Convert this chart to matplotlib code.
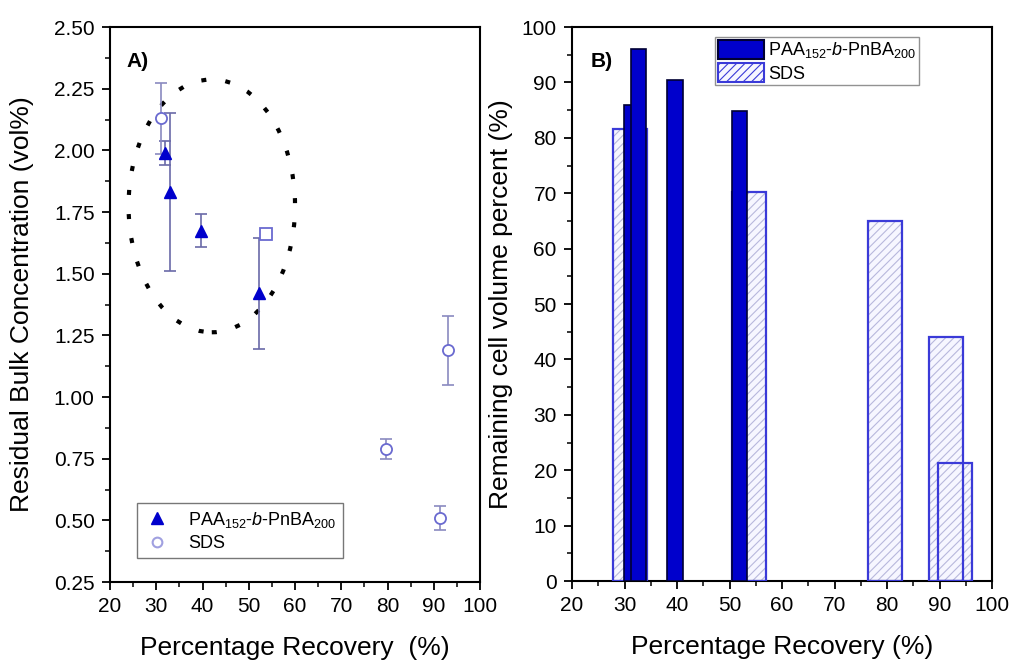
import matplotlib
matplotlib.use("Agg")
import matplotlib.pyplot as plt
from matplotlib.patches import Ellipse, Patch
from matplotlib.lines import Line2D
from matplotlib.ticker import MultipleLocator

plt.rcParams['font.family'] = ['Liberation Sans', 'DejaVu Sans']
plt.rcParams['mathtext.fontset'] = 'custom'
plt.rcParams['mathtext.rm'] = 'Liberation Sans'
plt.rcParams['mathtext.it'] = 'Liberation Sans:italic'
plt.rcParams['hatch.linewidth'] = 0.8

# ---- data: panel A ----
paa_recovery = [31.9, 33.0, 39.7, 52.2]
paa_conc = [1.99, 1.83, 1.675, 1.42]
paa_err = [0.05, 0.32, 0.065, 0.225]

sds_recovery = [31.0, 53.7, 79.7, 91.4, 93.1]
sds_conc = [2.13, 1.66, 0.79, 0.51, 1.19]
sds_err = [0.145, 0.0, 0.04, 0.05, 0.14]
sds_markers = ['o', 's', 'o', 'o', 'o']

# ---- data: panel B ----
paa_bar_x = [31.4, 32.6, 39.6, 51.9]
paa_bar_h = [86.0, 96.0, 90.5, 84.8]
sds_bar_x = [31.0, 53.7, 79.6, 91.3, 93.0]
sds_bar_h = [81.6, 70.2, 65.0, 44.0, 21.3]

xticks = [20, 30, 40, 50, 60, 70, 80, 90, 100]
yticks_a = [0.25, 0.50, 0.75, 1.00, 1.25, 1.50, 1.75, 2.00, 2.25, 2.50]
yticks_b = [0, 10, 20, 30, 40, 50, 60, 70, 80, 90, 100]

label_paa = r'PAA$_{152}$-$\it{b}$-PnBA$_{200}$'
label_sds = 'SDS'

NAVY = '#0000cc'
SDS_C = '#6a6ad0'
ERR_PAA = '#6a6aa8'
ERR_SDS = '#8a8ac0'

fig = plt.figure(figsize=(10.13, 6.66), dpi=100)
axA = fig.add_axes([0.1086, 0.1261, 0.3653, 0.8333])
axB = fig.add_axes([0.5647, 0.1276, 0.4146, 0.8318])

def style(ax):
    for s in ax.spines.values():
        s.set_linewidth(1.5)
    ax.tick_params(which='major', direction='out', length=6, width=1.3,
                   labelsize=15, pad=5, top=False, right=False)
    ax.tick_params(which='minor', direction='out', length=3.5, width=1.1,
                   top=False, right=False)

# ---------- Panel A ----------
ell = Ellipse((42.0, 1.775), 36.0, 1.025, fill=False, edgecolor='black',
              linewidth=3.0, linestyle=(0, (1.2, 4.6)))
axA.add_patch(ell)

axA.errorbar(paa_recovery, paa_conc, yerr=paa_err, fmt='none',
             ecolor=ERR_PAA, elinewidth=1.2, capsize=4, capthick=1.2, zorder=3)
axA.plot(paa_recovery, paa_conc, linestyle='none', marker='^', markersize=9,
         color=NAVY, zorder=4)

axA.errorbar(sds_recovery, sds_conc, yerr=sds_err, fmt='none',
             ecolor=ERR_SDS, elinewidth=1.2, capsize=4, capthick=1.2, zorder=3)
for x, y, m in zip(sds_recovery, sds_conc, sds_markers):
    axA.plot([x], [y], linestyle='none', marker=m, markersize=8,
             markerfacecolor='white', markeredgecolor=SDS_C,
             markeredgewidth=1.3, zorder=4)

axA.set_xlim(20, 100)
axA.set_ylim(0.25, 2.50)
axA.set_xticks(xticks)
axA.set_yticks(yticks_a)
axA.set_yticklabels([f'{v:.2f}' for v in yticks_a])
axA.xaxis.set_minor_locator(MultipleLocator(5))
axA.yaxis.set_minor_locator(MultipleLocator(0.125))
style(axA)
axA.set_xlabel('Percentage Recovery  (%)', fontsize=19, labelpad=14)
axA.set_ylabel('Residual Bulk Concentration (vol%)', fontsize=19, labelpad=14)
axA.text(0.045, 0.955, 'A)', transform=axA.transAxes, fontsize=15,
         fontweight='bold', va='top', ha='left')

hA = [Line2D([], [], linestyle='none', marker='^', markersize=9, color=NAVY),
      Line2D([], [], linestyle='none', marker='o', markersize=7,
             markerfacecolor='white', markeredgecolor='#a0a0e0',
             markeredgewidth=1.5)]
legA = axA.legend(hA, [label_paa, label_sds], loc='upper left',
                  bbox_to_anchor=(0.073, 0.142), borderaxespad=0,
                  fontsize=13, frameon=True, fancybox=False,
                  edgecolor='#555555', handlelength=1.5, handletextpad=1.0,
                  labelspacing=0.3, borderpad=0.35)
legA.get_frame().set_linewidth(1.0)

# ---------- Panel B ----------
axB.bar(sds_bar_x, sds_bar_h, width=6.5, color='#f6f6ff', hatch='////',
        edgecolor='#b8b8dc', linewidth=0, zorder=2)
axB.bar(sds_bar_x, sds_bar_h, width=6.5, fill=False, edgecolor='#3a3ad8',
        linewidth=1.6, zorder=3)
axB.bar(paa_bar_x, paa_bar_h, width=2.9, color=NAVY, edgecolor='#000033',
        linewidth=1.2, zorder=4)

axB.set_xlim(20, 100)
axB.set_ylim(0, 100)
axB.set_xticks(xticks)
axB.set_yticks(yticks_b)
axB.xaxis.set_minor_locator(MultipleLocator(5))
axB.yaxis.set_minor_locator(MultipleLocator(5))
style(axB)
axB.set_xlabel('Percentage Recovery (%)', fontsize=19, labelpad=14)
axB.set_ylabel('Remaining cell volume percent (%)', fontsize=19, labelpad=6)
axB.text(0.045, 0.955, 'B)', transform=axB.transAxes, fontsize=15,
         fontweight='bold', va='top', ha='left')

hB = [Patch(facecolor=NAVY, edgecolor='#000033', linewidth=1.5),
      Patch(facecolor='#f6f6ff', edgecolor='#3a3ad8', hatch='////',
            linewidth=1.5)]
legB = axB.legend(hB, [label_paa, label_sds], loc='upper left',
                  bbox_to_anchor=(0.340, 0.982), borderaxespad=0,
                  fontsize=13, frameon=True, fancybox=False,
                  edgecolor='#777777', handlelength=2.6, handleheight=1.25,
                  handletextpad=0.2, labelspacing=0.15, borderpad=0.15)
legB.get_frame().set_linewidth(1.0)

fig.savefig('out.png', dpi=100, facecolor='white')
